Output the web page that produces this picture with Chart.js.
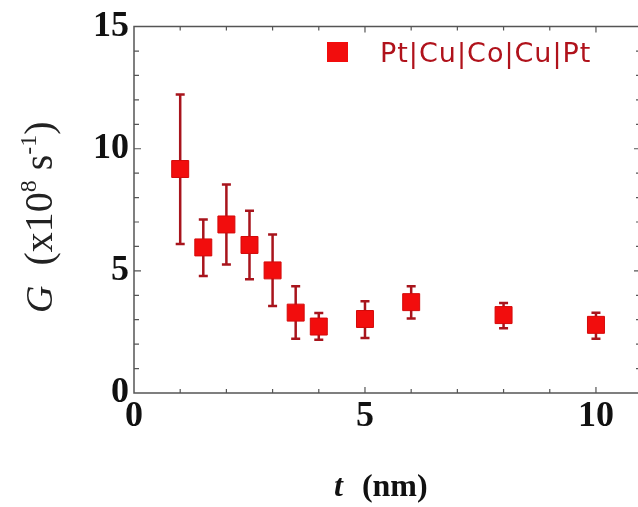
<!DOCTYPE html>
<html>
<head>
<meta charset="utf-8">
<script src="https://cdn.jsdelivr.net/npm/chart.js@4"></script>
<style>
html,body{margin:0;padding:0;background:#fff;overflow:hidden;}
canvas{display:block;}
</style>
</head>
<body>
<canvas id="c" width="638" height="507"></canvas>
<script>
const seriesLabel = 'Pt|Cu|Co|Cu|Pt';
const tValues = [1, 1.5, 2, 2.5, 3, 3.5, 4, 5, 6, 8, 10];
const gValues = [9.17, 5.96, 6.90, 6.06, 5.02, 3.29, 2.72, 3.03, 3.72, 3.19, 2.79];
const gUpper  = [12.22, 7.10, 8.54, 7.46, 6.49, 4.37, 3.28, 3.76, 4.37, 3.68, 3.29];
const gLower  = [6.10, 4.79, 5.26, 4.66, 3.56, 2.22, 2.18, 2.25, 3.05, 2.65, 2.22];
const xTicks = [0, 5, 10];
const yTicks = [0, 5, 10, 15];
const xMinor = [1, 2, 3, 4, 5, 6, 7, 8, 9, 10];
const yMinor = [1, 2, 3, 4, 5, 6, 7, 8, 9, 10, 11, 12, 13, 14];

const points = tValues.map((t, i) => ({x: t, y: gValues[i], hi: gUpper[i], lo: gLower[i]}));

const frameColor = '#555555';
const errColor = '#a8141c';
const markColor = '#f20d0d';

const errorBars = {
  id: 'errorBars',
  beforeDatasetsDraw(chart) {
    const {ctx, scales: {x, y}} = chart;
    ctx.save();
    ctx.strokeStyle = errColor;
    ctx.lineWidth = 2.5;
    points.forEach(p => {
      const px = x.getPixelForValue(p.x);
      const ph = y.getPixelForValue(p.hi);
      const pl = y.getPixelForValue(p.lo);
      ctx.beginPath();
      ctx.moveTo(px, ph); ctx.lineTo(px, pl);
      ctx.moveTo(px - 4.5, ph); ctx.lineTo(px + 4.5, ph);
      ctx.moveTo(px - 4.5, pl); ctx.lineTo(px + 4.5, pl);
      ctx.stroke();
    });
    ctx.restore();
  }
};

const frame = {
  id: 'frame',
  afterDraw(chart) {
    const {ctx, chartArea: a, scales: {x, y}} = chart;
    ctx.save();
    ctx.strokeStyle = frameColor;
    ctx.lineWidth = 1.5;
    ctx.beginPath();
    ctx.moveTo(a.right + 5, a.top); ctx.lineTo(a.left, a.top);
    ctx.lineTo(a.left, a.bottom); ctx.lineTo(a.right + 5, a.bottom);
    ctx.stroke();
    ctx.lineWidth = 1.2;
    ctx.beginPath();
    xMinor.forEach(v => {
      const px = x.getPixelForValue(v);
      const L = (v % 5 === 0) ? 6 : 4;
      ctx.moveTo(px, a.bottom); ctx.lineTo(px, a.bottom - L);
      ctx.moveTo(px, a.top); ctx.lineTo(px, a.top + L);
    });
    yMinor.forEach(v => {
      const py = y.getPixelForValue(v);
      const L = (v % 5 === 0) ? 7 : 5;
      ctx.moveTo(a.left, py); ctx.lineTo(a.left + L, py);
      ctx.moveTo(a.right + 3, py); ctx.lineTo(a.right + 3 - L, py);
    });
    ctx.stroke();

    // legend
    ctx.fillStyle = markColor;
    ctx.fillRect(327, 42, 21, 20);
    ctx.fillStyle = '#b0121b';
    ctx.font = '27px "DejaVu Sans"';
    ctx.letterSpacing = '1px';
    ctx.textBaseline = 'middle';
    ctx.textAlign = 'left';
    ctx.fillText(chart.data.datasets[0].label, 380, 55);
    ctx.letterSpacing = '0px';

    // y title
    ctx.save();
    ctx.translate(42, 313);
    ctx.rotate(-Math.PI / 2);
    ctx.fillStyle = '#222';
    ctx.textBaseline = 'alphabetic';
    const segs = [
      {t: 'G', f: 'italic 38px "Liberation Serif"', dy: 0},
      {t: '  (x10', f: '40px "Liberation Serif"', dy: 0},
      {t: '8', f: '24px "Liberation Serif"', dy: -16},
      {t: ' s', f: '40px "Liberation Serif"', dy: 0},
      {t: '-1', f: '24px "Liberation Serif"', dy: -16},
      {t: ')', f: '40px "Liberation Serif"', dy: 0}
    ];
    let cx = 0;
    segs.forEach(s => {
      ctx.font = s.f;
      ctx.fillText(s.t, cx, 10 + s.dy);
      cx += ctx.measureText(s.t).width;
    });
    ctx.restore();

    // x title
    ctx.fillStyle = '#111';
    ctx.textBaseline = 'alphabetic';
    ctx.font = 'bold italic 32px "Liberation Serif"';
    ctx.fillText('t', 334, 496);
    let w = ctx.measureText('t  ').width;
    ctx.font = 'bold 32px "Liberation Serif"';
    ctx.fillText('(nm)', 337 + w, 496);
    ctx.restore();
  }
};

new Chart(document.getElementById('c'), {
  type: 'scatter',
  data: {
    datasets: [{
      label: seriesLabel,
      data: points,
      pointStyle: 'rect',
      pointRadius: 12,
      pointHoverRadius: 12,
      backgroundColor: markColor,
      borderColor: '#d40a0a',
      borderWidth: 1
    }]
  },
  options: {
    responsive: false,
    animation: false,
    devicePixelRatio: 1,
    layout: {autoPadding: false, padding: {top: 19, right: 0, left: 0, bottom: 0}},
    plugins: {legend: {display: false}, tooltip: {enabled: false}},
    scales: {
      x: {
        type: 'linear', min: 0, max: 10.91,
        afterBuildTicks(s) { s.ticks = xTicks.map(v => ({value: v})); },
        afterFit(s) { s.height = 114; s.paddingRight = 0; },
        grid: {display: false, drawTicks: false},
        border: {display: false},
        ticks: {padding: 2, color: '#111', font: {family: '"Liberation Serif"', weight: 'bold', size: 36}}
      },
      y: {
        type: 'linear', min: 0, max: 15,
        afterBuildTicks(s) { s.ticks = yTicks.map(v => ({value: v})); },
        afterFit(s) { s.width = 134; },
        grid: {display: false, drawTicks: false},
        border: {display: false},
        ticks: {padding: 5, color: '#111', font: {family: '"Liberation Serif"', weight: 'bold', size: 36}}
      }
    }
  },
  plugins: [errorBars, frame]
});
</script>
</body>
</html>
